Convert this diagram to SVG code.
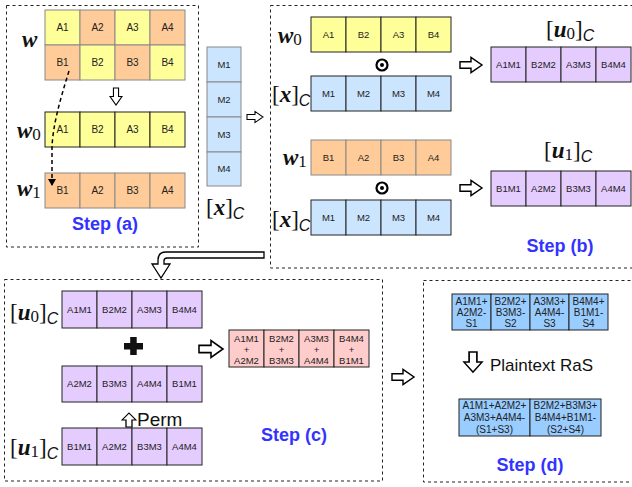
<svg xmlns="http://www.w3.org/2000/svg" xmlns:xlink="http://www.w3.org/1999/xlink" width="632" height="487" viewBox="0 0 632 487">
<style>
.c{font-family:"Liberation Sans",Arial,sans-serif;font-size:9.5px;fill:#222;text-anchor:middle}
.c10{font-size:10px}
.y{fill:#FFFF99}.o{fill:#FFCC99}.b{fill:#CCE5FF}.p{fill:#E5CCFF}.k{fill:#FFCCCC}.d{fill:#99CCFF}
.dk{stroke:#222;stroke-width:1}.gr{stroke:#888;stroke-width:1}
.box{fill:none;stroke:#222;stroke-width:1;stroke-dasharray:3 3}
.step{font-family:"Liberation Sans",Arial,sans-serif;font-weight:bold;font-size:18px;fill:#3333FF;text-anchor:middle}
.arr{fill:#fff;stroke:#000;stroke-width:1.3;stroke-linejoin:miter}
.br{font-family:"Liberation Serif","Times New Roman",serif;font-size:23px;fill:#111}
.mi{font-style:italic;font-weight:bold}
.sub{font-size:17px}
.cs{font-family:"Liberation Sans",Arial,sans-serif;font-style:italic;font-size:16px}
.lbl{font-family:"Liberation Sans",Arial,sans-serif;fill:#111}
</style>
<defs>
<path id="ra" d="M0,-3 L10,-3 L10,-7 L20,0 L10,7 L10,3 L0,3 Z"/>
<marker id="ah" markerWidth="8" markerHeight="8" refX="6" refY="4" orient="auto" markerUnits="userSpaceOnUse">
<path d="M0,0 L7,4 L0,8 Z" fill="#000"/>
</marker>
</defs>

<!-- boxes -->
<g id="boxes">
<rect class="box" x="6.5" y="5.5" width="192" height="241.5"/>
<rect class="box" x="270.5" y="5.5" width="380" height="262.5"/>
<rect class="box" x="4.5" y="279.5" width="378" height="201.5"/>
<rect class="box" x="423.5" y="280.5" width="230" height="201.5"/>
</g>

<!-- step (a) -->
<g id="w">
<rect class="y gr" x="45" y="10" width="35" height="35"/><rect class="o gr" x="80" y="10" width="35" height="35"/><rect class="y gr" x="115" y="10" width="35" height="35"/><rect class="o gr" x="150" y="10" width="35" height="35"/>
<rect class="o gr" x="45" y="45" width="35" height="35"/><rect class="y gr" x="80" y="45" width="35" height="35"/><rect class="o gr" x="115" y="45" width="35" height="35"/><rect class="y gr" x="150" y="45" width="35" height="35"/>
<text class="c c10" x="62.5" y="31">A1</text><text class="c c10" x="97.5" y="31">A2</text><text class="c c10" x="132.5" y="31">A3</text><text class="c c10" x="167.5" y="31">A4</text>
<text class="c c10" x="62.5" y="66">B1</text><text class="c c10" x="97.5" y="66">B2</text><text class="c c10" x="132.5" y="66">B3</text><text class="c c10" x="167.5" y="66">B4</text>
<text class="br" x="22" y="47"><tspan class="mi">w</tspan></text>
</g>
<g id="w0a">
<rect class="y dk" x="45" y="112" width="35" height="35"/><rect class="y dk" x="80" y="112" width="35" height="35"/><rect class="y dk" x="115" y="112" width="35" height="35"/><rect class="y dk" x="150" y="112" width="35" height="35"/>
<text class="c c10" x="62.5" y="133">A1</text><text class="c c10" x="97.5" y="133">B2</text><text class="c c10" x="132.5" y="133">A3</text><text class="c c10" x="167.5" y="133">B4</text>
<text class="br" x="17" y="138"><tspan class="mi">w</tspan><tspan class="sub" dy="2">0</tspan></text>
</g>
<g id="w1a">
<rect class="o gr" x="45" y="173" width="35" height="35"/><rect class="o gr" x="80" y="173" width="35" height="35"/><rect class="o gr" x="115" y="173" width="35" height="35"/><rect class="o gr" x="150" y="173" width="35" height="35"/>
<text class="c c10" x="62.5" y="194">B1</text><text class="c c10" x="97.5" y="194">A2</text><text class="c c10" x="132.5" y="194">B3</text><text class="c c10" x="167.5" y="194">A4</text>
<text class="br" x="17" y="196"><tspan class="mi">w</tspan><tspan class="sub" dy="2">1</tspan></text>
</g>
<text class="step" x="105" y="230">Step (a)</text>

<!-- x column -->
<g id="xcol">
<rect class="b gr" x="207" y="47" width="34" height="35"/><rect class="b gr" x="207" y="82" width="34" height="35"/><rect class="b gr" x="207" y="117" width="34" height="35"/><rect class="b gr" x="207" y="152" width="34" height="34"/>
<text class="c" x="224" y="67.7">M1</text><text class="c" x="224" y="102.7">M2</text><text class="c" x="224" y="137.7">M3</text><text class="c" x="224" y="172.2">M4</text>
<text class="br" x="206" y="215">[<tspan class="mi">x</tspan>]<tspan class="cs" dy="4">C</tspan></text>
</g>

<!-- step (b) -->
<g id="w0b">
<rect class="y dk" x="311" y="17" width="35" height="35"/><rect class="y dk" x="346" y="17" width="35" height="35"/><rect class="y dk" x="381" y="17" width="35" height="35"/><rect class="y dk" x="416" y="17" width="35" height="35"/>
<text class="c" x="328.5" y="37.7">A1</text><text class="c" x="363.5" y="37.7">B2</text><text class="c" x="398.5" y="37.7">A3</text><text class="c" x="433.5" y="37.7">B4</text>
<text class="br" x="278" y="43"><tspan class="mi">w</tspan><tspan class="sub" dy="2">0</tspan></text>
</g>
<g id="xb1">
<rect class="b dk" x="311" y="76" width="35" height="35"/><rect class="b dk" x="346" y="76" width="35" height="35"/><rect class="b dk" x="381" y="76" width="35" height="35"/><rect class="b dk" x="416" y="76" width="35" height="35"/>
<text class="c" x="328.5" y="96.7">M1</text><text class="c" x="363.5" y="96.7">M2</text><text class="c" x="398.5" y="96.7">M3</text><text class="c" x="433.5" y="96.7">M4</text>
<text class="br" x="272" y="102">[<tspan class="mi">x</tspan>]<tspan class="cs" dy="4">C</tspan></text>
</g>
<g id="w1b">
<rect class="o gr" x="311" y="140" width="35" height="35"/><rect class="o gr" x="346" y="140" width="35" height="35"/><rect class="o gr" x="381" y="140" width="35" height="35"/><rect class="o gr" x="416" y="140" width="35" height="35"/>
<text class="c" x="328.5" y="160.7">B1</text><text class="c" x="363.5" y="160.7">A2</text><text class="c" x="398.5" y="160.7">B3</text><text class="c" x="433.5" y="160.7">A4</text>
<text class="br" x="283" y="165"><tspan class="mi">w</tspan><tspan class="sub" dy="2">1</tspan></text>
</g>
<g id="xb2">
<rect class="b dk" x="311" y="200" width="35" height="35"/><rect class="b dk" x="346" y="200" width="35" height="35"/><rect class="b dk" x="381" y="200" width="35" height="35"/><rect class="b dk" x="416" y="200" width="35" height="35"/>
<text class="c" x="328.5" y="220.7">M1</text><text class="c" x="363.5" y="220.7">M2</text><text class="c" x="398.5" y="220.7">M3</text><text class="c" x="433.5" y="220.7">M4</text>
<text class="br" x="272" y="227">[<tspan class="mi">x</tspan>]<tspan class="cs" dy="4">C</tspan></text>
</g>
<g id="odot1"><circle cx="382" cy="65" r="5.5" fill="#fff" stroke="#000" stroke-width="2.2"/><circle cx="382" cy="65" r="2" fill="#000"/></g>
<g id="odot2"><circle cx="382" cy="188" r="5.5" fill="#fff" stroke="#000" stroke-width="2.2"/><circle cx="382" cy="188" r="2" fill="#000"/></g>
<g id="u0b">
<rect class="p dk" x="491" y="47" width="35" height="35"/><rect class="p dk" x="526" y="47" width="35" height="35"/><rect class="p dk" x="561" y="47" width="35" height="35"/><rect class="p dk" x="596" y="47" width="35" height="35"/>
<text class="c" x="508.5" y="67.7">A1M1</text><text class="c" x="543.5" y="67.7">B2M2</text><text class="c" x="578.5" y="67.7">A3M3</text><text class="c" x="613.5" y="67.7">B4M4</text>
<text class="br" x="546" y="37">[<tspan class="mi">u</tspan><tspan class="sub" dy="2">0</tspan><tspan dy="-2">]</tspan><tspan class="cs" dy="4">C</tspan></text>
</g>
<g id="u1b">
<rect class="p dk" x="491" y="171" width="35" height="35"/><rect class="p dk" x="526" y="171" width="35" height="35"/><rect class="p dk" x="561" y="171" width="35" height="35"/><rect class="p dk" x="596" y="171" width="35" height="35"/>
<text class="c" x="508.5" y="191.7">B1M1</text><text class="c" x="543.5" y="191.7">A2M2</text><text class="c" x="578.5" y="191.7">B3M3</text><text class="c" x="613.5" y="191.7">A4M4</text>
<text class="br" x="544" y="158">[<tspan class="mi">u</tspan><tspan class="sub" dy="2">1</tspan><tspan dy="-2">]</tspan><tspan class="cs" dy="4">C</tspan></text>
</g>
<text class="step" x="560" y="252">Step (b)</text>

<!-- step (c) -->
<g id="u0c">
<rect class="p dk" x="62" y="291" width="35" height="37"/><rect class="p dk" x="97" y="291" width="35" height="37"/><rect class="p dk" x="132" y="291" width="35" height="37"/><rect class="p dk" x="167" y="291" width="35" height="37"/>
<text class="c" x="79.5" y="312.7">A1M1</text><text class="c" x="114.5" y="312.7">B2M2</text><text class="c" x="149.5" y="312.7">A3M3</text><text class="c" x="184.5" y="312.7">B4M4</text>
<text class="br" x="10" y="320">[<tspan class="mi">u</tspan><tspan class="sub" dy="2">0</tspan><tspan dy="-2">]</tspan><tspan class="cs" dy="4">C</tspan></text>
</g>
<g id="plus"><rect x="124" y="343" width="19" height="6.5" fill="#111"/><rect x="130.2" y="337" width="6.5" height="18" fill="#111"/></g>
<g id="permc">
<rect class="p dk" x="62" y="366" width="35" height="36"/><rect class="p dk" x="97" y="366" width="35" height="36"/><rect class="p dk" x="132" y="366" width="35" height="36"/><rect class="p dk" x="167" y="366" width="35" height="36"/>
<text class="c" x="79.5" y="387.2">A2M2</text><text class="c" x="114.5" y="387.2">B3M3</text><text class="c" x="149.5" y="387.2">A4M4</text><text class="c" x="184.5" y="387.2">B1M1</text>
</g>
<g id="u1c">
<rect class="p dk" x="62" y="428" width="35" height="37"/><rect class="p dk" x="97" y="428" width="35" height="37"/><rect class="p dk" x="132" y="428" width="35" height="37"/><rect class="p dk" x="167" y="428" width="35" height="37"/>
<text class="c" x="79.5" y="449.7">B1M1</text><text class="c" x="114.5" y="449.7">A2M2</text><text class="c" x="149.5" y="449.7">B3M3</text><text class="c" x="184.5" y="449.7">A4M4</text>
<text class="br" x="10" y="455">[<tspan class="mi">u</tspan><tspan class="sub" dy="2">1</tspan><tspan dy="-2">]</tspan><tspan class="cs" dy="4">C</tspan></text>
</g>
<text class="lbl" x="137" y="426" font-size="19">Perm</text>
<g id="sumc">
<rect class="k dk" x="229" y="330" width="35" height="37"/><rect class="k dk" x="264" y="330" width="35" height="37"/><rect class="k dk" x="299" y="330" width="35" height="37"/><rect class="k dk" x="334" y="330" width="35" height="37"/>
<text class="c" x="246.5" y="341.5">A1M1</text><text class="c" x="246.5" y="352.5">+</text><text class="c" x="246.5" y="363.5">A2M2</text>
<text class="c" x="281.5" y="341.5">B2M2</text><text class="c" x="281.5" y="352.5">+</text><text class="c" x="281.5" y="363.5">B3M3</text>
<text class="c" x="316.5" y="341.5">A3M3</text><text class="c" x="316.5" y="352.5">+</text><text class="c" x="316.5" y="363.5">A4M4</text>
<text class="c" x="351.5" y="341.5">B4M4</text><text class="c" x="351.5" y="352.5">+</text><text class="c" x="351.5" y="363.5">B1M1</text>
</g>
<text class="step" x="294" y="441">Step (c)</text>

<!-- step (d) -->
<g id="rasd1">
<rect class="d dk" x="452" y="294" width="39" height="36"/><rect class="d dk" x="491" y="294" width="39" height="36"/><rect class="d dk" x="530" y="294" width="39" height="36"/><rect class="d dk" x="569" y="294" width="39" height="36"/>
<text class="c c10" x="471.5" y="304.5">A1M1+</text><text class="c c10" x="471.5" y="315.5">A2M2-</text><text class="c c10" x="471.5" y="326.5">S1</text>
<text class="c c10" x="510.5" y="304.5">B2M2+</text><text class="c c10" x="510.5" y="315.5">B3M3-</text><text class="c c10" x="510.5" y="326.5">S2</text>
<text class="c c10" x="549.5" y="304.5">A3M3+</text><text class="c c10" x="549.5" y="315.5">A4M4-</text><text class="c c10" x="549.5" y="326.5">S3</text>
<text class="c c10" x="588.5" y="304.5">B4M4+</text><text class="c c10" x="588.5" y="315.5">B1M1-</text><text class="c c10" x="588.5" y="326.5">S4</text>
</g>
<text class="lbl" x="490" y="371" font-size="17">Plaintext RaS</text>
<g id="rasd2">
<rect class="d dk" x="459" y="399" width="71" height="37"/><rect class="d dk" x="530" y="399" width="71" height="37"/>
<text class="c c10" x="494.5" y="409">A1M1+A2M2+</text><text class="c c10" x="494.5" y="421">A3M3+A4M4-</text><text class="c c10" x="494.5" y="432.5">(S1+S3)</text>
<text class="c c10" x="565.5" y="409">B2M2+B3M3+</text><text class="c c10" x="565.5" y="421">B4M4+B1M1-</text><text class="c c10" x="565.5" y="432.5">(S2+S4)</text>
</g>
<text class="step" x="530" y="471">Step (d)</text>

<!-- connectors -->
<g id="connectors">
<path d="M69,71 C60,100 52,128 52,150 L52,185" fill="none" stroke="#000" stroke-width="1.5" stroke-dasharray="4 3" marker-end="url(#ah)"/>
<use xlink:href="#ra" class="arr" transform="translate(116,88) rotate(90) scale(0.85)"/>
<use xlink:href="#ra" class="arr" transform="translate(247,117) scale(0.8)"/>
<use xlink:href="#ra" class="arr" transform="translate(460,65) scale(1.1)"/>
<use xlink:href="#ra" class="arr" transform="translate(460,188) scale(1.1)"/>
<path class="arr" d="M264,252 L166,252 Q158,252 158,260 L158,264 L152,264 L161,278 L170,264 L164,264 L164,261 Q164,258 167,258 L264,258 Z"/>
<use xlink:href="#ra" class="arr" transform="translate(199,349) scale(1.2)"/>
<use xlink:href="#ra" class="arr" transform="translate(129,427) rotate(-90) scale(0.7,1)"/>
<use xlink:href="#ra" class="arr" transform="translate(392,377) scale(1.1)"/>
<use xlink:href="#ra" class="arr" transform="translate(473,352) rotate(90) scale(1,1.3)"/>
</g>
</svg>
